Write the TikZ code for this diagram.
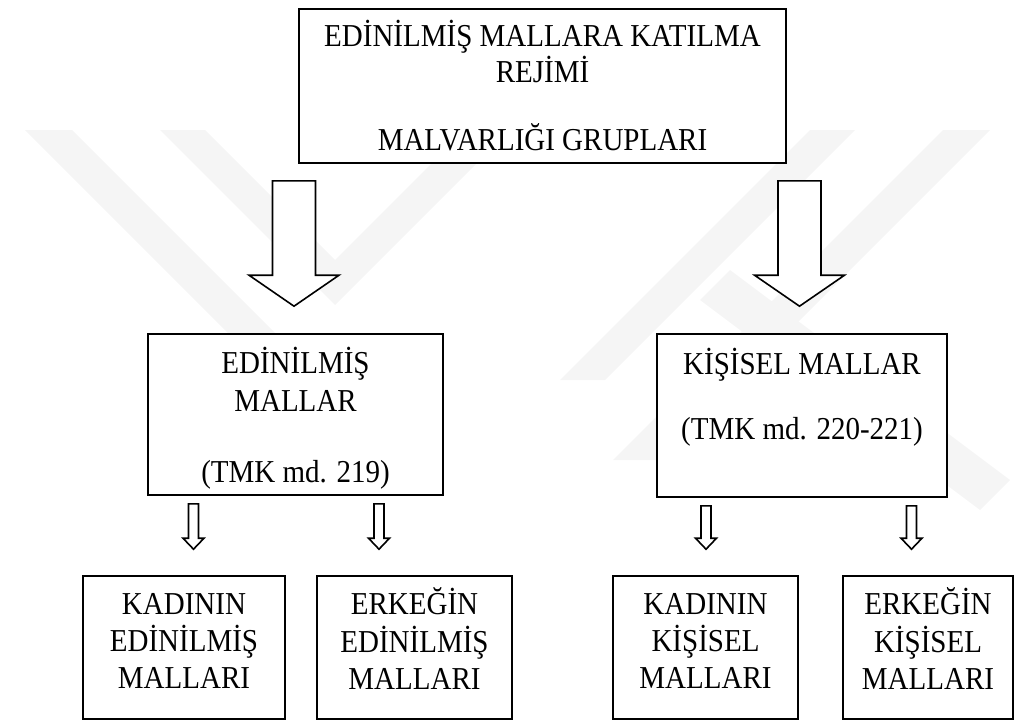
\documentclass[tikz,border=0pt]{standalone}
\usepackage{graphicx}
\usepackage{fontspec}
\setmainfont{Liberation Serif}
\usetikzlibrary{calc}

\tikzset{
  box/.style={draw, fill=white, line width=0.8pt, inner sep=0pt,
    font=\fontsize{14.5pt}{16.8pt}\selectfont},
  blockarrow/.style={draw, fill=white, line width=0.8pt, line join=miter},
  wmark/.style={fill=black!4},
}

% text of a box: centred lines, slightly tall like the scanned original
\newcommand{\boxlines}[1]{\scalebox{1}[1.1]{\begin{tabular}{@{}c@{}}#1\end{tabular}}}
\newcommand{\up}[1]{\rule{0pt}{#1}}
\newcommand{\down}[1]{\rule[-#1]{0pt}{#1}}

% hollow down arrow: from, to, x-coordinate, gap top, gap bottom, shaft half, head half, head length
\newcommand{\hollowarrow}[8]{%
  \path (#3 |- #1.south) ++(0,#4) coordinate (tail)
        (#3 |- #2.north) ++(0,-#5) coordinate (tip);
  \draw[blockarrow] ($(tail)+(-#6,0)$) -- ($(tail)+(#6,0)$) -- ($(tip)+(#6,-#8)$)
    -- ($(tip)+(#7,-#8)$) -- (tip) -- ($(tip)+(-#7,-#8)$) -- ($(tip)+(-#6,-#8)$) -- cycle;
}
\newcommand{\bigarrow}[3]{\hollowarrow{#1}{#2}{#3}{17}{27}{21.5}{45}{31}}
\newcommand{\smallarrow}[3]{\hollowarrow{#1}{#2}{#3}{8}{26}{5}{10.5}{11}}

\begin{document}
\begin{tikzpicture}[x=0.5pt,y=-0.5pt]
\useasboundingbox (0,0) rectangle (1015,722);

% faint watermark
\fill[wmark] (25,130) -- (72,130) -- (402,460) -- (355,460) -- cycle;
\fill[wmark] (160,130) -- (205,130) -- (335,260) -- (465,130) -- (510,130) -- (335,305) -- cycle;
\fill[wmark] (990,130) -- (943,130) -- (613,460) -- (660,460) -- cycle;
\fill[wmark] (855,130) -- (810,130) -- (560,380) -- (605,380) -- cycle;
\fill[wmark] (700,300) -- (730,270) -- (1010,480) -- (980,510) -- cycle;

% boxes
\node[box, minimum width=243.5pt, minimum height=77pt] (regime) at (542.5,86)
  {\boxlines{\up{16.3pt}EDİNİLMİŞ MALLARA KATILMA\\[-0.9pt]REJİMİ\\[13.6pt]MALVARLIĞI GRUPLARI}};
\node[box, minimum width=147.5pt, minimum height=80.5pt] (acq) at (295.5,414.5)
  {\boxlines{\up{17.2pt}EDİNİLMİŞ\\[0.7pt]MALLAR\\[15.5pt](TMK md. 219)}};
\node[box, minimum width=145pt, minimum height=81.5pt] (pers) at (802,415.5)
  {\boxlines{KİŞİSEL MALLAR\\[13pt](TMK md. 220-221)\down{19.7pt}}};
\node[box, minimum width=101pt, minimum height=71.5pt] (wAcq) at (184,647.5)
  {\boxlines{KADININ\\EDİNİLMİŞ\\MALLARI\down{8.1pt}}};
\node[box, minimum width=97.5pt, minimum height=71.5pt] (hAcq) at (414.5,647.5)
  {\boxlines{ERKEĞİN\\EDİNİLMİŞ\\MALLARI\down{8.1pt}}};
\node[box, minimum width=92.5pt, minimum height=71.5pt] (wPers) at (705.5,647.5)
  {\boxlines{KADININ\\KİŞİSEL\\MALLARI\down{8.1pt}}};
\node[box, minimum width=85pt, minimum height=71.5pt] (hPers) at (928,647.5)
  {\boxlines{ERKEĞİN\\KİŞİSEL\\MALLARI\down{8.1pt}}};

% arrows
\coordinate (xl) at (294,0);
\coordinate (xr) at (799.5,0);
\bigarrow{regime}{acq}{xl}
\bigarrow{regime}{pers}{xr}
\foreach \from/\to/\x in {acq/wAcq/193.5, acq/hAcq/379, pers/wPers/706, pers/hPers/911.5}{
  \coordinate (xs) at (\x,0);
  \smallarrow{\from}{\to}{xs}
}
\end{tikzpicture}
\end{document}
